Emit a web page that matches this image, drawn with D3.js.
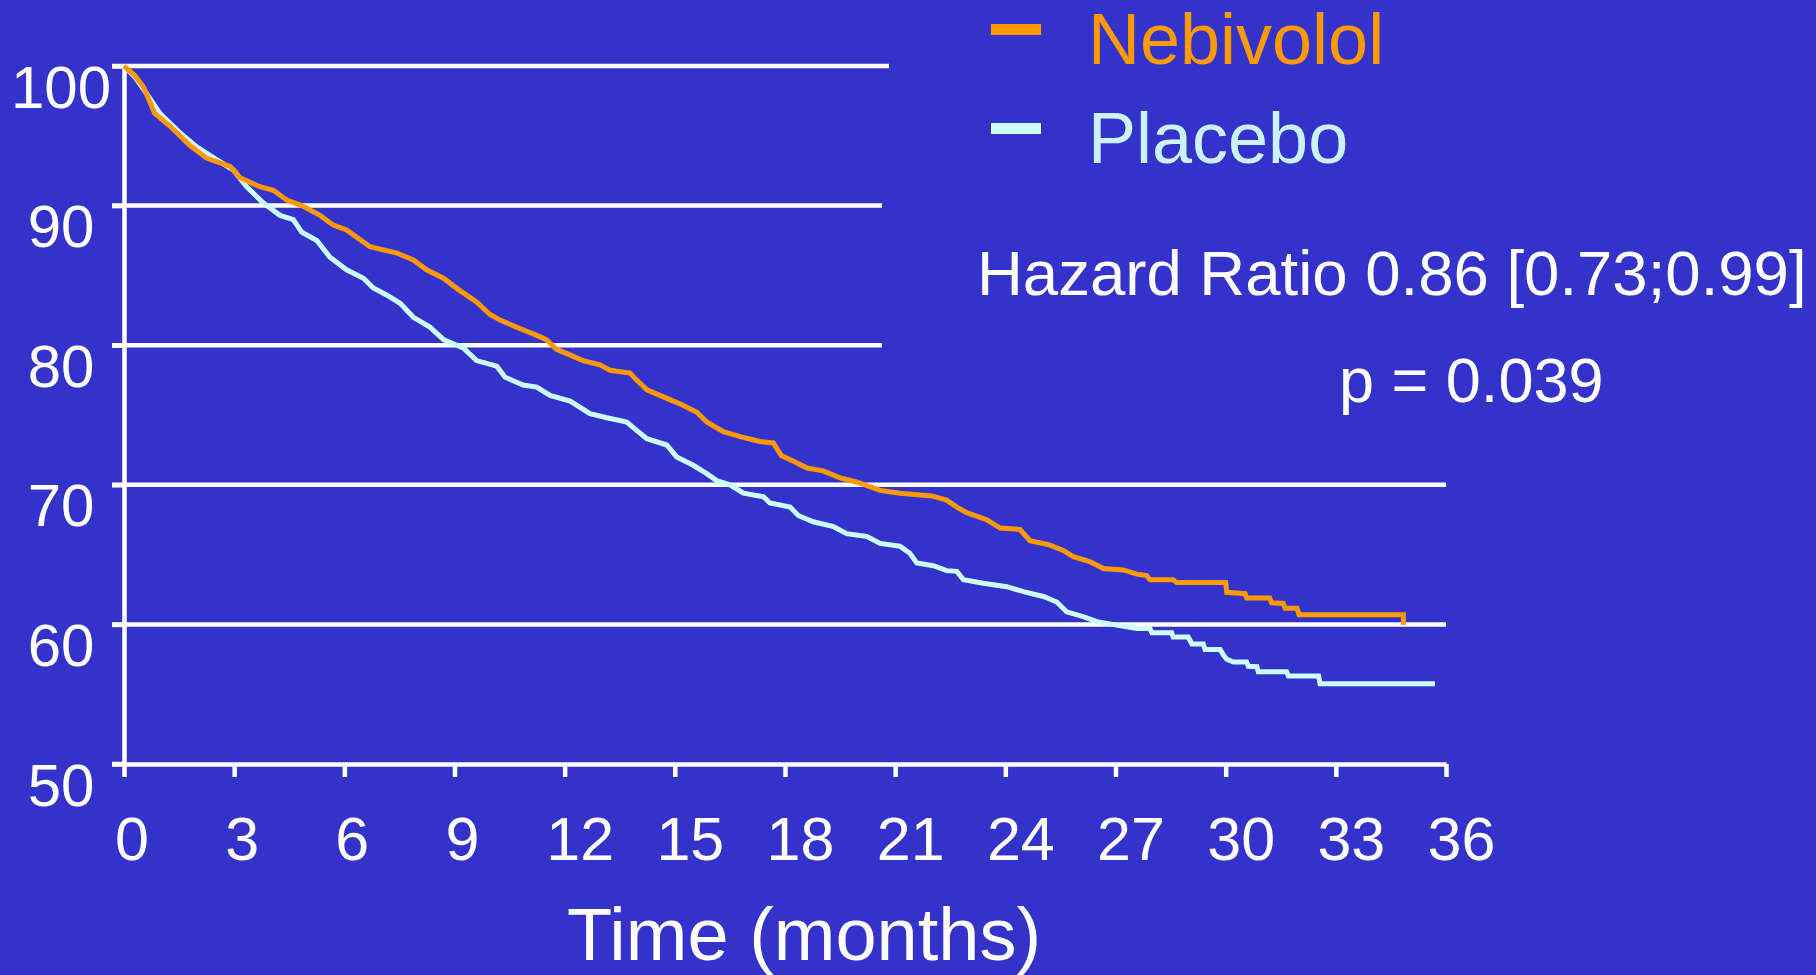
<!DOCTYPE html>
<html>
<head>
<meta charset="utf-8">
<script src="https://cdn.jsdelivr.net/npm/d3@7"></script>
<style>
  html, body { margin: 0; padding: 0; background: #3333cc; overflow: hidden; }
  svg { display: block; }
  text { font-family: "Liberation Sans", Arial, Helvetica, sans-serif; }
</style>
</head>
<body>
<script>
// survival curves (month, % event free)
const nebivololTime = [0, 0.3, 0.53, 0.84, 1.25, 1.8, 2.25, 2.89, 3.16, 3.7, 4.07, 4.43, 4.84, 5.34, 5.7, 6.06, 6.7, 7.43, 7.88, 8.24, 8.7, 9.1, 9.6, 9.97, 10.24, 10.78, 11.24, 11.5, 11.78, 12.06, 12.5, 12.96, 13.24, 13.78, 13.96, 14.24, 14.69, 15.14, 15.6, 15.87, 16.32, 16.78, 17.32, 17.68, 17.9, 18.3, 18.6, 19.04, 19.5, 19.95, 20.59, 21.13, 22.0, 22.4, 22.68, 22.95, 23.49, 23.86, 24.4, 24.67, 25.2, 25.58, 25.85, 26.3, 26.67, 27.21, 27.58, 27.85, 27.94, 28.57, 28.67, 30.0, 30.03, 30.53, 30.57, 31.2, 31.25, 31.57, 31.62, 31.94, 32.0, 34.84, 34.84];
const nebivololSurv = [100, 99.3, 98.5, 96.6, 95.7, 94.3, 93.4, 92.8, 92.0, 91.35, 91.1, 90.4, 90.0, 89.3, 88.6, 88.25, 87.05, 86.6, 86.1, 85.4, 84.8, 84.0, 83.1, 82.2, 81.8, 81.2, 80.7, 80.4, 79.7, 79.4, 78.9, 78.6, 78.2, 78.0, 77.5, 76.8, 76.3, 75.8, 75.2, 74.5, 73.8, 73.45, 73.1, 73.0, 72.1, 71.6, 71.2, 71.0, 70.5, 70.2, 69.6, 69.4, 69.2, 68.9, 68.4, 68.0, 67.5, 66.9, 66.8, 66.0, 65.7, 65.3, 64.85, 64.5, 64.0, 63.9, 63.6, 63.5, 63.2, 63.2, 63.0, 63.0, 62.3, 62.2, 61.9, 61.9, 61.55, 61.5, 61.15, 61.15, 60.7, 60.7, 59.95];

const placeboTime = [0, 0.3, 0.62, 0.98, 1.53, 1.98, 2.52, 2.98, 3.34, 3.79, 4.25, 4.61, 4.84, 5.25, 5.61, 6.06, 6.52, 6.79, 7.15, 7.52, 7.88, 8.33, 8.7, 9.06, 9.24, 9.6, 10.15, 10.38, 10.87, 11.24, 11.6, 12.15, 12.69, 13.15, 13.69, 13.96, 14.24, 14.78, 15.05, 15.5, 15.87, 16.14, 16.5, 16.87, 17.41, 17.59, 18.14, 18.36, 18.77, 19.32, 19.68, 20.23, 20.59, 21.13, 21.4, 21.59, 22.04, 22.4, 22.68, 22.86, 23.4, 24.04, 24.49, 25.04, 25.4, 25.67, 26.12, 26.49, 27.03, 27.58, 27.94, 27.99, 28.53, 28.57, 28.98, 29.08, 29.39, 29.44, 29.85, 29.94, 30.03, 30.21, 30.57, 30.62, 30.85, 30.89, 31.66, 31.71, 32.53, 32.57, 35.7];
const placeboSurv = [100, 99.2, 98.0, 96.6, 95.2, 94.2, 93.3, 92.55, 91.35, 90.2, 89.3, 89.0, 88.1, 87.5, 86.3, 85.4, 84.8, 84.1, 83.6, 83.0, 82.0, 81.3, 80.4, 80.0, 79.8, 78.9, 78.5, 77.7, 77.15, 77.0, 76.4, 76.0, 75.1, 74.8, 74.5, 73.9, 73.3, 72.85, 72.0, 71.4, 70.8, 70.3, 70.0, 69.4, 69.15, 68.7, 68.4, 67.8, 67.35, 67.0, 66.5, 66.3, 65.8, 65.6, 65.1, 64.4, 64.2, 63.85, 63.8, 63.2, 62.95, 62.7, 62.35, 62.0, 61.6, 60.9, 60.55, 60.2, 59.95, 59.7, 59.7, 59.4, 59.4, 59.1, 59.1, 58.6, 58.6, 58.2, 58.2, 57.8, 57.5, 57.3, 57.3, 57.0, 56.97, 56.6, 56.6, 56.3, 56.3, 55.75, 55.75];

const xTicks = [0, 3, 6, 9, 12, 15, 18, 21, 24, 27, 30, 33, 36];
const yTicks = [50, 60, 70, 80, 90, 100];
const gridValues = [100, 90, 80, 70, 60];
const seriesNames = ["Nebivolol", "Placebo"];

const W = 1816, H = 975;
const orange = "#ff9900", cyan = "#ccffff";

const svg = d3.select("body").append("svg")
  .attr("width", W)
  .attr("height", H);

svg.append("rect").attr("width", W).attr("height", H).attr("fill", "#3333cc");

const x = d3.scaleLinear().domain([0, 36]).range([124, 1446]);
const y = d3.scaleLinear().domain([50, 100]).range([764, 66]);

// horizontal reference lines, the upper ones stop short (legend side)
const gridEnd = {100: 20.83, 90: 20.64, 80: 20.64, 70: 36, 60: 36};
svg.append("g").selectAll("line")
  .data(gridValues)
  .join("line")
    .attr("x1", 112)
    .attr("x2", d => x(gridEnd[d]))
    .attr("y1", d => y(d))
    .attr("y2", d => y(d))
    .attr("stroke", "#fff")
    .attr("stroke-width", 4.5);

// axes
const yAxis = svg.append("g")
  .attr("transform", `translate(${x(0)},0)`)
  .call(d3.axisLeft(y).tickValues(yTicks).tickSize(12).tickSizeOuter(0));

const xAxis = svg.append("g")
  .attr("transform", `translate(0,${y(50)})`)
  .call(d3.axisBottom(x).tickValues(xTicks).tickSize(13).tickSizeOuter(0));

[yAxis, xAxis].forEach(g => {
  g.select(".domain").attr("stroke", "#fff").attr("stroke-width", 4.5);
  g.selectAll(".tick line").attr("stroke", "#fff").attr("stroke-width", 4.5);
  g.selectAll(".tick text").attr("fill", "#fff");
});

yAxis.selectAll(".tick text")
  .attr("x", -63)
  .attr("y", 41)
  .attr("dy", null)
  .attr("text-anchor", "middle")
  .attr("font-size", 60)
  .attr("font-family", null);

xAxis.selectAll(".tick text")
  .attr("y", 96)
  .attr("dy", null)
  .attr("dx", d => String(d).length * 7.5)
  .attr("text-anchor", "middle")
  .attr("font-size", 61)
  .attr("font-family", null);

// the x axis starts under the y ticks
xAxis.append("line")
  .attr("x1", 112).attr("x2", x(0))
  .attr("stroke", "#fff").attr("stroke-width", 4.5);

// curves
const line = d3.line()
  .x(d => x(d[0]))
  .y(d => y(d[1]));

const curves = [
  {name: seriesNames[1], color: cyan, pts: d3.zip(placeboTime, placeboSurv)},
  {name: seriesNames[0], color: orange, pts: d3.zip(nebivololTime, nebivololSurv)}
];

svg.append("g").selectAll("path")
  .data(curves)
  .join("path")
    .attr("d", d => line(d.pts))
    .attr("fill", "none")
    .attr("stroke", d => d.color)
    .attr("stroke-width", 5)
    .attr("stroke-linejoin", "miter");

// legend
const legend = svg.append("g");
const legendRows = [
  {name: seriesNames[0], color: orange, text: orange, base: 64},
  {name: seriesNames[1], color: cyan, text: "#ccf2ff", base: 163}
];
legendRows.forEach(r => {
  legend.append("rect")
    .attr("x", 991).attr("y", r.base - 40)
    .attr("width", 50).attr("height", 11)
    .attr("fill", r.color);
  legend.append("text")
    .attr("x", 1088).attr("y", r.base)
    .attr("font-size", 72)
    .attr("fill", r.text)
    .text(r.name);
});

svg.append("text")
  .attr("x", 977).attr("y", 295)
  .attr("font-size", 63.5)
  .attr("fill", "#fff")
  .text("Hazard Ratio 0.86 [0.73;0.99]");

svg.append("text")
  .attr("x", 1339).attr("y", 402)
  .attr("font-size", 63)
  .attr("fill", "#fff")
  .text("p = 0.039");

svg.append("text")
  .attr("x", 804).attr("y", 960)
  .attr("text-anchor", "middle")
  .attr("font-size", 74)
  .attr("fill", "#fff")
  .text("Time (months)");
</script>
</body>
</html>
